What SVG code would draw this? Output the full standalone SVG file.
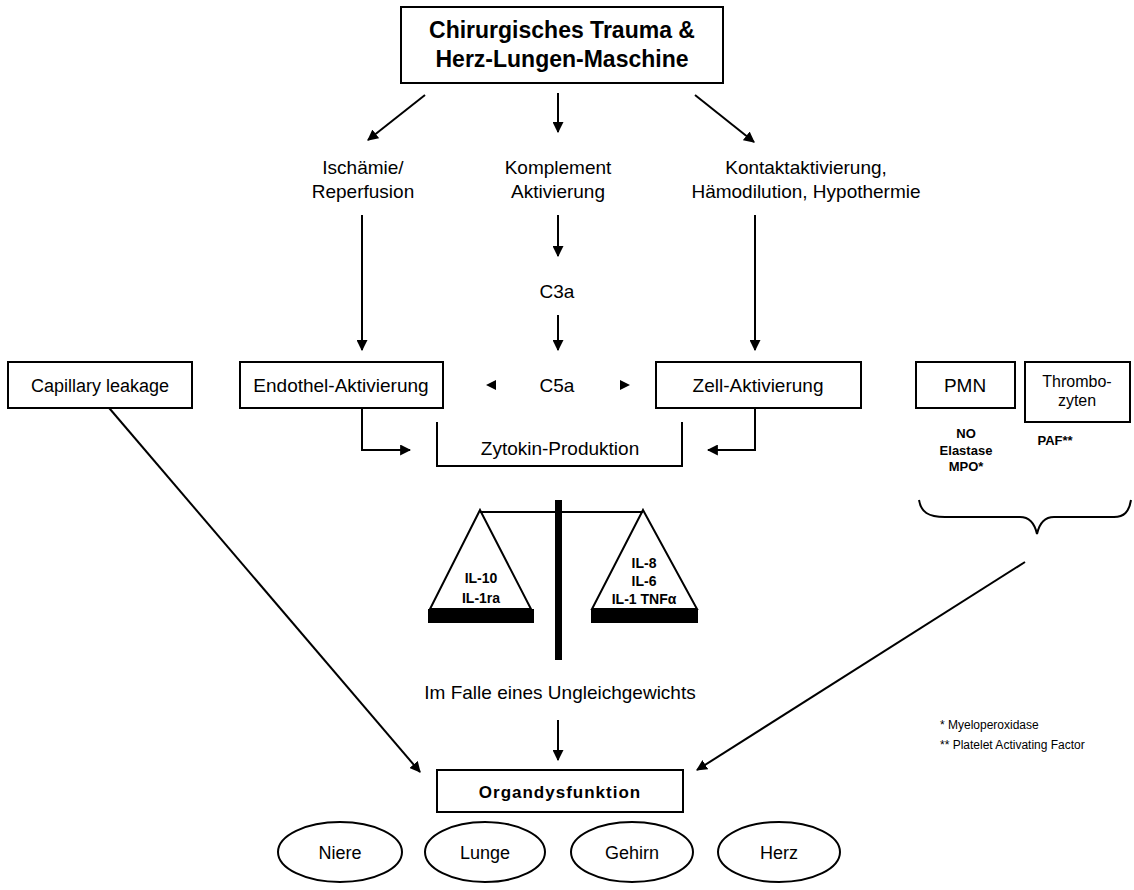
<svg xmlns="http://www.w3.org/2000/svg" width="1134" height="890" viewBox="0 0 1134 890">
<style>
text{font-family:"Liberation Sans",Arial,sans-serif;fill:#000}
.t{font-size:19px;text-anchor:middle}
.b{font-weight:bold}
.box{fill:#fff;stroke:#000;stroke-width:2}
.ln{fill:none;stroke:#000;stroke-width:2}
.ar{fill:none;stroke:#000;stroke-width:2;marker-end:url(#ah)}
.sm{font-size:14px;text-anchor:middle}
.fn{font-size:12px}
</style>
<defs>
<marker id="ah" viewBox="0 0 10 10" refX="9" refY="5" markerWidth="5.5" markerHeight="5.5" orient="auto" markerUnits="strokeWidth">
<path d="M0,0 L10,5 L0,10 z" fill="#000"/>
</marker>
</defs>
<rect width="1134" height="890" fill="#fff"/>

<g id="connectors">
<line class="ar" x1="425" y1="95" x2="368" y2="140"/>
<line class="ar" x1="558" y1="93" x2="558" y2="132"/>
<line class="ar" x1="695" y1="95" x2="754" y2="142"/>
<line class="ar" x1="362" y1="215" x2="362" y2="350"/>
<line class="ar" x1="558" y1="215" x2="558" y2="256"/>
<line class="ar" x1="558" y1="315" x2="558" y2="350"/>
<line class="ar" x1="755" y1="215" x2="755" y2="350"/>
<path d="M486,385 l10,-5 v10 z" fill="#000"/>
<path d="M630,385 l-10,-5 v10 z" fill="#000"/>
<polyline class="ar" points="362,408 362,450 410,450"/>
<polyline class="ar" points="755,408 755,450 708,450"/>
<line class="ar" x1="104" y1="402" x2="420" y2="772"/>
<line class="ar" x1="1025" y1="562" x2="697" y2="770"/>
<line class="ar" x1="558" y1="720" x2="558" y2="760"/>
</g>

<g id="top">
<rect class="box" x="401" y="7" width="322" height="76"/>
<text class="t b" x="562" y="38" style="font-size:23px">Chirurgisches Trauma &amp;</text>
<text class="t b" x="562" y="67" style="font-size:23px">Herz-Lungen-Maschine</text>
</g>

<g id="ischaemie">
<text class="t" x="363" y="174">Ischämie/</text>
<text class="t" x="363" y="198">Reperfusion</text>
</g>
<g id="komplement">
<text class="t" x="558" y="174">Komplement</text>
<text class="t" x="558" y="198">Aktivierung</text>
</g>
<g id="kontakt">
<text class="t" x="806" y="174">Kontaktaktivierung,</text>
<text class="t" x="806" y="198">Hämodilution, Hypothermie</text>
</g>
<g id="c3a"><text class="t" x="557" y="298">C3a</text></g>
<g id="c5a"><text class="t" x="557" y="392">C5a</text></g>

<g id="capillary">
<rect class="box" x="8" y="362" width="184" height="46"/>
<text class="t" x="100" y="392" style="font-size:18px">Capillary leakage</text>
</g>
<g id="endothel">
<rect class="box" x="240" y="362" width="203" height="46"/>
<text class="t" x="341" y="392">Endothel-Aktivierung</text>
</g>
<g id="zell">
<rect class="box" x="656" y="362" width="205" height="46"/>
<text class="t" x="758" y="392">Zell-Aktivierung</text>
</g>
<g id="pmn">
<rect class="box" x="916" y="362" width="99" height="46"/>
<text class="t" x="965" y="392">PMN</text>
<text class="sm b" x="966" y="438" style="font-size:13px">NO</text>
<text class="sm b" x="966" y="455" style="font-size:13px">Elastase</text>
<text class="sm b" x="966" y="471" style="font-size:13px">MPO*</text>
</g>
<g id="thrombo">
<rect class="box" x="1025" y="362" width="105" height="60"/>
<text class="t" x="1077" y="387" style="font-size:16px">Thrombo-</text>
<text class="t" x="1077" y="406" style="font-size:16px">zyten</text>
<text class="sm b" x="1055" y="445" style="font-size:13px">PAF**</text>
</g>
<g id="brace">
<path class="ln" d="M919,500 C921,512 928,517 945,517 L1020,517 C1030,517 1035,525 1037,534 C1039,525 1044,517 1054,517 L1114,517 C1124,517 1129,512 1131,500"/>
</g>

<g id="zytokin">
<polyline class="ln" points="437,422 437,466 682,466 682,422"/>
<text class="t" x="560" y="455">Zytokin-Produktion</text>
</g>

<g id="waage">
<rect x="555" y="500" width="7" height="160" fill="#000"/>
<line class="ln" x1="480" y1="512" x2="643" y2="512"/>
<polygon points="480,510 430,609 531,609" fill="none" stroke="#000" stroke-width="2"/>
<rect x="428" y="609" width="106" height="14" fill="#000"/>
<polygon points="643,510 592,609 697,609" fill="none" stroke="#000" stroke-width="2"/>
<rect x="591" y="609" width="107" height="14" fill="#000"/>
<text class="sm b" x="481" y="583">IL-10</text>
<text class="sm b" x="481" y="603">IL-1ra</text>
<text class="sm b" x="644" y="568">IL-8</text>
<text class="sm b" x="644" y="586">IL-6</text>
<text class="sm b" x="644" y="604">IL-1 TNFα</text>
</g>

<g id="ungleich"><text class="t" x="560" y="699">Im Falle eines Ungleichgewichts</text></g>

<g id="organ">
<rect class="box" x="437" y="770" width="246" height="42"/>
<text class="t b" x="560" y="798" style="font-size:17px;letter-spacing:1px">Organdysfunktion</text>
</g>
<g id="niere"><ellipse class="ln" cx="340" cy="852" rx="62" ry="30"/><text class="t" x="340" y="859" style="font-size:18px">Niere</text></g>
<g id="lunge"><ellipse class="ln" cx="485" cy="852" rx="60" ry="30"/><text class="t" x="485" y="859" style="font-size:18px">Lunge</text></g>
<g id="gehirn"><ellipse class="ln" cx="632" cy="852" rx="61" ry="30"/><text class="t" x="632" y="859" style="font-size:18px">Gehirn</text></g>
<g id="herz"><ellipse class="ln" cx="779" cy="852" rx="61" ry="30"/><text class="t" x="779" y="859" style="font-size:18px">Herz</text></g>

<g id="footnotes">
<text class="fn" x="940" y="729">* Myeloperoxidase</text>
<text class="fn" x="940" y="749">** Platelet Activating Factor</text>
</g>
</svg>
